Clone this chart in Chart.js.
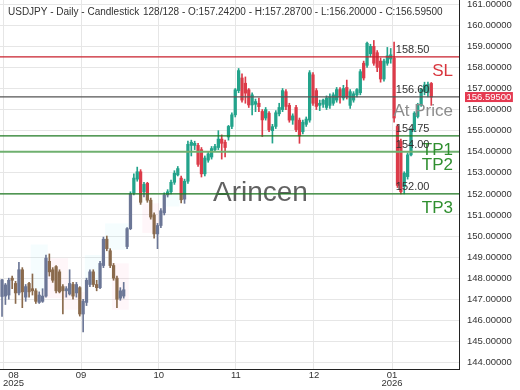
<!DOCTYPE html>
<html>
<head>
<meta charset="utf-8">
<script src="https://cdn.jsdelivr.net/npm/chart.js@4"></script>
<style>
  html, body { margin: 0; padding: 0; background: #fff; }
  #wrap { width: 520px; height: 390px; position: relative; }
</style>
</head>
<body>
<div id="wrap"><canvas id="chart"></canvas></div>
<script>
// USDJPY daily candles, Aug 2025 - Jan 2026
const opens = [
  147.13, 147.15, 147.20, 148.00, 147.75, 147.30, 148.40, 147.10, 147.75, 147.50,
  147.40, 146.85, 146.90, 147.15, 148.80, 148.40, 148.55, 148.30, 147.60, 147.40,
  147.25, 147.70, 147.30, 147.55, 146.30, 146.85, 147.70, 148.30, 147.70, 147.55,
  148.60, 149.85, 149.30, 148.60, 148.00, 147.05, 147.15, 149.50, 150.35, 152.05,
  152.70, 153.05, 152.10, 152.50, 151.70, 151.00, 150.10, 150.50, 151.10, 151.95,
  152.10, 152.55, 152.90, 152.75, 151.75, 152.60, 154.30, 154.30, 154.30, 154.10,
  152.95, 153.60, 153.75, 154.10, 154.20, 154.60, 154.45, 154.70, 155.20, 155.75,
  156.90, 157.50, 157.25, 156.94, 156.22, 156.25, 156.30, 155.91, 155.60, 155.83,
  155.00, 155.20, 155.80, 156.00, 156.85, 156.20, 155.50, 156.10, 155.50, 154.95,
  155.30, 155.50, 157.65, 156.90, 156.20, 156.25, 156.10, 156.20, 156.30, 156.45,
  156.95, 156.55, 157.05, 156.20, 156.45, 156.70, 156.80, 158.20, 158.10, 158.65,
  159.00, 158.70, 158.30, 157.45, 158.20, 158.40, 158.45, 155.20, 154.50, 152.35,
  152.82, 153.85, 155.04, 155.67, 156.22, 156.86, 156.80, 157.242
];
const highs = [
  147.95, 147.75, 148.00, 148.10, 147.85, 148.75, 148.50, 147.70, 147.80, 148.20,
  147.50, 147.35, 147.50, 149.10, 149.15, 148.50, 148.60, 148.40, 147.70, 147.60,
  148.40, 147.80, 147.80, 147.60, 147.00, 148.00, 148.40, 148.40, 147.90, 148.80,
  149.95, 150.00, 149.40, 148.70, 148.10, 147.55, 147.80, 150.40, 152.10, 152.95,
  153.27, 153.15, 152.55, 152.55, 151.80, 151.10, 150.60, 151.30, 152.05, 152.20,
  152.65, 153.10, 153.30, 152.85, 152.70, 154.50, 154.55, 154.50, 154.40, 154.20,
  153.80, 154.00, 154.25, 154.35, 155.00, 154.80, 154.55, 155.25, 155.85, 157.00,
  157.95, 157.70, 157.55, 157.00, 156.80, 156.50, 156.55, 156.00, 156.10, 155.90,
  155.30, 155.95, 156.30, 157.00, 156.95, 156.30, 155.80, 156.20, 155.60, 155.50,
  155.65, 157.85, 157.75, 157.00, 156.45, 156.50, 156.65, 156.75, 156.80, 157.05,
  157.05, 157.15, 157.40, 156.95, 156.85, 157.00, 157.90, 158.30, 159.20, 159.10,
  159.28, 158.80, 158.45, 158.40, 158.95, 158.90, 159.20, 155.30, 154.60, 153.05,
  153.95, 155.10, 155.90, 156.30, 157.00, 157.30, 157.30, 157.287
];
const lows = [
  146.18, 146.75, 147.00, 147.50, 146.80, 147.20, 146.60, 146.90, 147.10, 147.20,
  146.80, 146.80, 146.85, 147.10, 148.10, 147.80, 147.30, 147.30, 146.30, 147.10,
  147.20, 147.00, 147.10, 146.20, 145.45, 146.70, 147.60, 147.60, 147.40, 147.50,
  148.50, 149.30, 148.50, 147.90, 146.60, 146.95, 147.05, 149.40, 150.30, 151.95,
  152.60, 151.50, 151.85, 151.60, 150.80, 149.90, 149.40, 150.40, 151.00, 151.85,
  152.00, 152.45, 152.85, 151.57, 151.55, 152.50, 153.80, 154.10, 153.30, 152.80,
  152.85, 153.50, 153.65, 154.00, 154.10, 153.65, 153.75, 154.55, 155.10, 155.65,
  156.80, 156.35, 156.30, 156.10, 155.75, 155.90, 155.90, 154.72, 155.50, 154.95,
  154.41, 155.10, 155.70, 155.90, 156.00, 155.40, 155.30, 154.95, 154.40, 154.85,
  155.20, 155.40, 156.20, 156.00, 155.95, 156.10, 156.00, 156.05, 156.20, 156.35,
  156.30, 156.45, 156.50, 156.05, 156.35, 156.60, 156.70, 157.40, 158.00, 158.50,
  158.10, 157.80, 157.30, 157.35, 158.10, 158.20, 155.40, 152.30, 152.00, 152.00,
  152.70, 153.80, 154.95, 155.60, 156.15, 156.70, 156.60, 156.20
];
const closes = [
  147.92, 147.68, 147.90, 147.90, 147.30, 148.40, 147.35, 147.60, 147.35, 147.40,
  146.90, 147.20, 147.15, 148.95, 148.30, 147.90, 147.40, 147.35, 147.40, 147.50,
  147.75, 147.15, 147.70, 146.30, 146.90, 147.90, 148.30, 147.70, 147.55, 148.70,
  149.85, 149.40, 148.60, 148.00, 147.00, 147.40, 147.45, 150.35, 152.00, 152.75,
  153.05, 151.60, 152.45, 151.70, 150.90, 150.10, 150.50, 151.20, 151.95, 152.10,
  152.55, 152.98, 153.20, 151.72, 152.60, 154.35, 154.45, 154.40, 153.40, 152.95,
  153.70, 153.90, 154.15, 154.25, 154.60, 154.40, 154.20, 155.20, 155.75, 156.94,
  157.85, 156.45, 156.78, 156.22, 156.70, 156.38, 156.14, 155.51, 156.00, 155.04,
  155.19, 155.85, 156.10, 156.90, 156.15, 155.50, 155.70, 155.05, 154.75, 155.40,
  155.55, 157.75, 156.30, 156.15, 156.30, 156.45, 156.55, 156.60, 156.70, 156.95,
  156.60, 157.00, 156.60, 156.85, 156.75, 156.95, 157.80, 157.50, 159.15, 159.00,
  158.20, 158.00, 157.45, 158.30, 158.55, 158.60, 155.60, 152.40, 152.10, 152.98,
  153.85, 155.04, 155.83, 156.22, 156.94, 157.17, 157.20, 156.595
];

// x axis: month starts (in candle index units) and their labels
const monthTicks = [0.3, 23.4, 46.4, 69.2, 92.3, 115.4];
const monthLabels = [["08", "2025"], ["09"], ["10"], ["11"], ["12"], ["01", "2026"]];
const priceTicks = [144, 145, 146, 147, 148, 149, 150, 151, 152, 153, 154, 155, 156, 157, 158, 159, 160, 161];

// trade levels
const levelValues = [158.5, 156.6, 154.75, 154.0, 152.0];
const levelNames = ["SL", "At Price", "TP1", "TP2", "TP3"];
const labelIndex = 116.5;

// faint zones: [fromIndex, toIndex, low, high, kind]
const zones = [
  [9, 13, 147.4, 149.6, "up"],
  [13, 19, 147.05, 148.95, "down"],
  [18, 24, 146.5, 147.35, "down"],
  [25, 29, 147.7, 149.1, "up"],
  [31, 37, 149.35, 150.6, "up"],
  [33, 37, 146.5, 148.7, "down"],
  [42, 46, 150.15, 151.55, "down"],
  [48, 52, 151.4, 152.05, "up"]
];

const UP = "#23a38b", DOWN = "#dc3b49";
const UP_LOW = "#6b7696", DOWN_LOW = "#8a6a4c";
const levelColors = ["#c8202c", "#555555", "#1f7a22", "#6fb06f", "#1f7a22"];
const nameColors = ["#d9363e", "#8c8c8c", "#2f8f2f", "#2f8f2f", "#2f8f2f"];
const FONT = "'Liberation Sans', Arial, sans-serif";

const X_MIN = -0.6, X_MAX = 135.2;
const split = levelValues[4];

function part(lo, hi, above) {
  if (above) return hi > split ? [Math.max(lo, split), hi] : null;
  return lo < split ? [lo, Math.min(hi, split)] : null;
}

function candleData(kind, above, up) {
  return opens.map((o, i) => {
    const c = closes[i];
    if ((c >= o) !== up) return { x: i, y: null };
    const lo = kind === "wick" ? lows[i] : Math.min(o, c);
    const hi = kind === "wick" ? highs[i] : Math.max(o, c);
    return { x: i, y: part(lo, hi, above) };
  });
}

const datasets = [];
[[true, true, UP], [true, false, DOWN], [false, true, UP_LOW], [false, false, DOWN_LOW]].forEach(([above, up, col]) => {
  datasets.push({ type: "bar", data: candleData("wick", above, up), backgroundColor: col,
    barThickness: 1, grouped: false, order: 3 });
  datasets.push({ type: "bar", data: candleData("body", above, up), backgroundColor: col,
    barThickness: 2.6, minBarLength: 1, grouped: false, order: 2 });
});
levelValues.forEach((v, i) => {
  datasets.push({ type: "line", data: [{ x: X_MIN, y: v }, { x: X_MAX, y: v }],
    borderColor: levelColors[i], borderWidth: i === 3 ? 2 : 1.2, pointRadius: 0, order: 0 });
});

const overlay = {
  id: "overlay",
  beforeDatasetsDraw(chart) {
    const { ctx, scales: { x, y } } = chart;
    ctx.save();
    zones.forEach(([a, b, lo, hi, kind]) => {
      ctx.fillStyle = kind === "up" ? "rgba(70,215,230,0.055)" : "rgba(255,100,150,0.055)";
      const x0 = x.getPixelForValue(a - 0.5), x1 = x.getPixelForValue(b + 0.5);
      const y0 = y.getPixelForValue(hi), y1 = y.getPixelForValue(lo);
      ctx.fillRect(x0, y0, x1 - x0, y1 - y0);
    });
    ctx.fillStyle = "rgba(80,80,80,0.9)";
    ctx.font = "28px " + FONT;
    ctx.textBaseline = "middle";
    ctx.fillText("Arincen", 213, 193);
    ctx.restore();
  },
  afterDatasetsDraw(chart) {
    const { ctx, chartArea, scales: { x, y } } = chart;
    ctx.save();
    const lx = x.getPixelForValue(labelIndex);
    levelValues.forEach((v, i) => {
      const py = y.getPixelForValue(v);
      ctx.fillStyle = "#333";
      ctx.font = "11px " + FONT;
      ctx.textAlign = "left";
      ctx.textBaseline = "bottom";
      ctx.fillText(v.toFixed(2), lx, py - 1);
      ctx.fillStyle = nameColors[i];
      ctx.font = "17px " + FONT;
      ctx.textAlign = "right";
      ctx.textBaseline = "middle";
      ctx.fillText(levelNames[i], chartArea.right - 6, py + 14);
    });
    // header
    const n = closes.length;
    ctx.fillStyle = "#333";
    ctx.font = "10px " + FONT;
    ctx.textAlign = "left";
    ctx.textBaseline = "middle";
    ctx.fillText("USDJPY - Daily - Candlestick", 8, 12.5);
    ctx.fillText(n + "/" + n + " - O:" + opens[n - 1].toFixed(5) + " - H:" + highs[n - 1].toFixed(5) +
      " - L:" + lows[n - 1].toFixed(5) + " - C:" + closes[n - 1].toFixed(5), 143, 12.5);
    ctx.restore();
  },
  afterDraw(chart) {
    const { ctx, chartArea, scales: { x, y } } = chart;
    ctx.save();
    ctx.font = "9.5px " + FONT;
    ctx.fillStyle = "#333";
    ctx.textAlign = "center";
    ctx.textBaseline = "middle";
    monthTicks.forEach((v, i) => {
      const lines = monthLabels[i];
      const half = Math.max(...lines.map(s => ctx.measureText(s).width)) / 2;
      const px = Math.max(x.getPixelForValue(v), chartArea.left + 3 + half);
      lines.forEach((s, k) => ctx.fillText(s, px, chartArea.bottom + 6 + k * 8.5));
    });
    // last price box
    const last = closes[closes.length - 1];
    const py = y.getPixelForValue(last);
    const txt = last.toFixed(5);
    const w = ctx.measureText(txt).width;
    ctx.fillStyle = "#e53950";
    ctx.fillRect(chartArea.right + 6, py - 5, w + 3, 10);
    ctx.fillStyle = "#fff";
    ctx.textAlign = "left";
    ctx.fillText(txt, chartArea.right + 7.5, py + 0.5);
    ctx.restore();
  }
};

new Chart(document.getElementById("chart"), {
  type: "bar",
  data: { datasets },
  options: {
    responsive: true,
    maintainAspectRatio: false,
    devicePixelRatio: 1,
    animation: false,
    layout: { padding: 0 },
    plugins: { legend: { display: false }, tooltip: { enabled: false }, title: { display: false } },
    scales: {
      x: {
        type: "linear",
        min: X_MIN,
        max: X_MAX,
        offset: false,
        afterBuildTicks: s => { s.ticks = monthTicks.map(v => ({ value: v })); },
        afterFit: s => { s.height = 21; s.paddingLeft = 0; s.paddingRight = 0; },
        grid: { color: "#e6e6e6", offset: false, drawTicks: false },
        border: { display: true, color: "#222", width: 1 },
        ticks: { display: false }
      },
      y: {
        type: "linear",
        position: "right",
        min: 143.69,
        max: 161.2,
        afterBuildTicks: s => { s.ticks = priceTicks.map(v => ({ value: v })); },
        afterFit: s => { s.width = 61; s.paddingTop = 0; s.paddingBottom = 0; },
        grid: { color: "#e6e6e6", drawTicks: false },
        border: { display: true, color: "#222", width: 1 },
        ticks: {
          padding: 8,
          color: "#333",
          font: { size: 9.5, family: FONT },
          callback: v => Number(v).toFixed(5)
        }
      }
    }
  },
  plugins: [overlay]
});
</script>
</body>
</html>
